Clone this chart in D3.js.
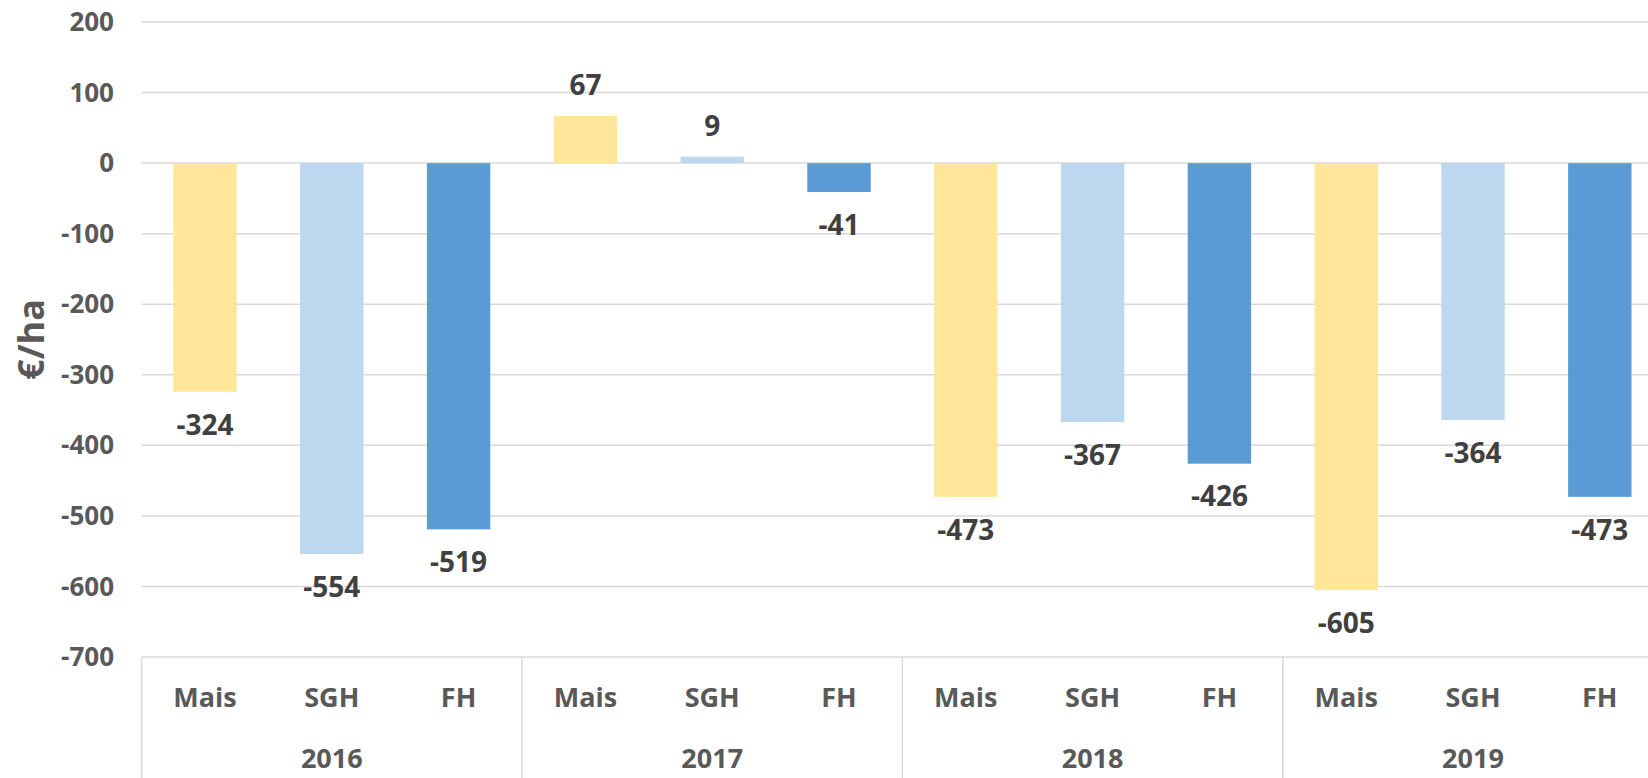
<!DOCTYPE html>
<html>
<head>
<meta charset="utf-8">
<script src="https://cdn.jsdelivr.net/npm/d3@7"></script>
<style>
  body { margin: 0; background: #fff; }
  svg { display: block; font-family: "Open Sans", sans-serif; font-weight: bold; }
</style>
</head>
<body>
<div id="chart"></div>
<script>
const svgWidth = 1648;
const svgHeight = 778;

const years = ["2016", "2017", "2018", "2019"];
const crops = ["Mais", "SGH", "FH"];
const maisValues = [-324, 67, -473, -605];
const sghValues = [-554, 9, -367, -364];
const fhValues = [-519, -41, -426, -473];
const yTicks = [200, 100, 0, -100, -200, -300, -400, -500, -600, -700];

const palette = { Mais: "#FFE699", SGH: "#BDD7EE", FH: "#5B9BD5" };
const seriesByCrop = { Mais: maisValues, SGH: sghValues, FH: fhValues };

const data = [];
years.forEach((year, i) => {
  crops.forEach((crop) => {
    data.push({ key: `${year}-${crop}`, year, crop, value: seriesByCrop[crop][i] });
  });
});

const plotLeft = 141.6;
const plotRight = 1663.2;
const plotTop = 22;
const plotBottom = 657;

const svg = d3.select("#chart")
  .append("svg")
  .attr("width", svgWidth)
  .attr("height", svgHeight);

const xScale = d3.scaleBand()
  .domain(data.map((d) => d.key))
  .range([plotLeft, plotRight])
  .paddingInner(0.5)
  .paddingOuter(0.25);

const yearScale = d3.scaleBand().domain(years).range([plotLeft, plotRight]);

const yScale = d3.scaleLinear().domain([-700, 200]).range([plotBottom, plotTop]);

// gridlines
svg.append("g")
  .selectAll("line")
  .data(yTicks)
  .join("line")
  .attr("x1", plotLeft)
  .attr("x2", plotRight)
  .attr("y1", (d) => yScale(d))
  .attr("y2", (d) => yScale(d))
  .attr("stroke", "#D9D9D9")
  .attr("stroke-width", 1.5);

// y tick labels
svg.append("g")
  .selectAll("text")
  .data(yTicks)
  .join("text")
  .attr("x", 114)
  .attr("y", (d) => yScale(d))
  .attr("dy", "0.35em")
  .attr("text-anchor", "end")
  .attr("font-size", "26px")
  .attr("fill", "#595959")
  .text((d) => d);

// axis title
svg.append("text")
  .attr("transform", `translate(44,${(plotTop + plotBottom) / 2}) rotate(-90)`)
  .attr("text-anchor", "middle")
  .attr("font-size", "36px")
  .attr("fill", "#595959")
  .text("€/ha");

// bars
svg.append("g")
  .selectAll("rect")
  .data(data)
  .join("rect")
  .attr("x", (d) => xScale(d.key))
  .attr("width", xScale.bandwidth())
  .attr("y", (d) => yScale(Math.max(0, d.value)))
  .attr("height", (d) => Math.abs(yScale(d.value) - yScale(0)))
  .attr("fill", (d) => palette[d.crop]);

// data labels
svg.append("g")
  .selectAll("text")
  .data(data)
  .join("text")
  .attr("x", (d) => xScale(d.key) + xScale.bandwidth() / 2)
  .attr("y", (d) => yScale(d.value) + (d.value < 0 ? 33 : -31))
  .attr("dy", "0.35em")
  .attr("text-anchor", "middle")
  .attr("font-size", "28px")
  .attr("fill", "#404040")
  .text((d) => d.value);

// category axis: group dividers
svg.append("g")
  .selectAll("line")
  .data(years)
  .join("line")
  .attr("x1", (d) => yearScale(d))
  .attr("x2", (d) => yearScale(d))
  .attr("y1", plotBottom)
  .attr("y2", svgHeight)
  .attr("stroke", "#D9D9D9")
  .attr("stroke-width", 1.5);

svg.append("g")
  .selectAll("text")
  .data(data)
  .join("text")
  .attr("x", (d) => xScale(d.key) + xScale.bandwidth() / 2)
  .attr("y", 698)
  .attr("dy", "0.35em")
  .attr("text-anchor", "middle")
  .attr("font-size", "27px")
  .attr("fill", "#595959")
  .text((d) => d.crop);

svg.append("g")
  .selectAll("text")
  .data(years)
  .join("text")
  .attr("x", (d) => yearScale(d) + yearScale.bandwidth() / 2)
  .attr("y", 759)
  .attr("dy", "0.35em")
  .attr("text-anchor", "middle")
  .attr("font-size", "27px")
  .attr("fill", "#595959")
  .text((d) => d);
</script>
</body>
</html>
